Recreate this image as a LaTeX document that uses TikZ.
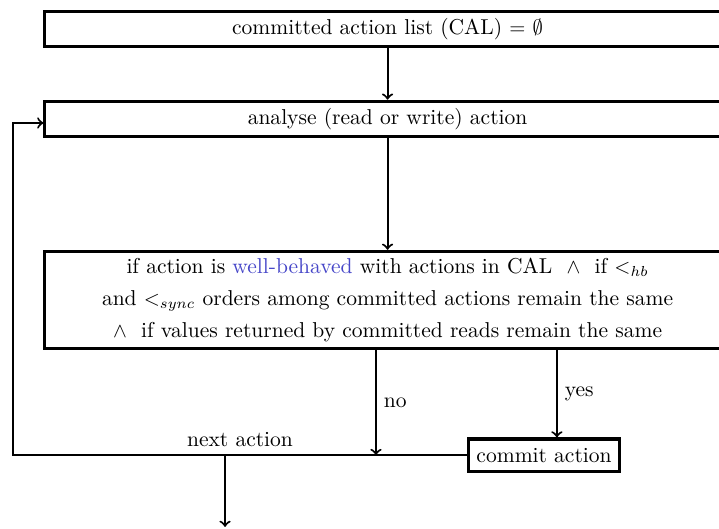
\documentclass[tikz,border=0pt]{standalone}
\usetikzlibrary{positioning}
\definecolor{wellblue}{RGB}{70,70,200}
\begin{document}
\begin{tikzpicture}[node distance=25pt, line width=1pt, >=to,
            font=\fontsize{10.4}{12.5}\selectfont,
            box/.style = {draw, line width=1.5pt, minimum width=331pt, minimum height=17pt, inner sep=3pt},
            small/.style = {draw, line width=1.5pt, minimum width=73pt, minimum height=15.5pt, inner sep=3pt}]

           \useasboundingbox (0,0) rectangle (347.3pt,-255.5pt);

           \node[box] (cal) at (187.2pt,-13.9pt) {committed action list (CAL) $=$ $\emptyset$};
           \node[box] (analyse) [below=of cal] {analyse (read or write) action};
           \node[box, minimum height=47pt, align=center] (check) [below=54pt of analyse]
                {if action is \textcolor{wellblue}{well-behaved} with actions in CAL~~$\wedge$~~if $<_{hb}$\\[3pt]
                 and $<_{sync}$ orders among committed actions remain the same\\[3pt]
                 $\wedge$~~if values returned by committed reads remain the same};
           \node[small] (commit) at (262.8pt,-219.8pt) {commit action};

           %punti dei rami
           \coordinate (join) at (181.6pt,-219.8pt);
           \coordinate (yesx) at (269pt,-219.8pt);
           \coordinate (corner) at (6.3pt,-219.8pt);
           \coordinate (split) at (108.7pt,-219.8pt);
           \coordinate (out) at (108.7pt,-254.5pt);

           \draw[->] (cal) -- (analyse);
           \draw[->] (analyse) -- (check);
           \draw[->] (check.south -| join) -- (join) node[midway, right] {no};
           \draw[->] (check.south -| yesx) -- (commit.north -| yesx) node[midway, right] {yes};
           \draw[->] (commit.west) -- node[above] {next action} (corner) |- ([yshift=-2pt]analyse.west);
           \draw[->] (split) -- (out);
        \end{tikzpicture}
\end{document}
